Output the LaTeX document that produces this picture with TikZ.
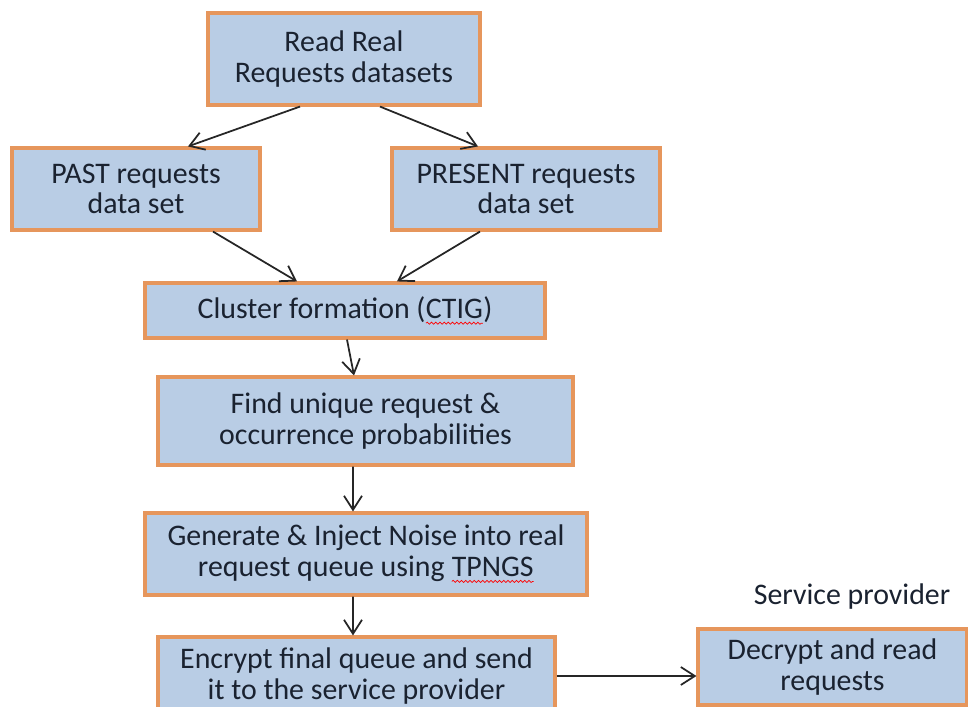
\documentclass[tikz,border=0pt]{standalone}
\usepackage{fontspec}
\setmainfont{Carlito}
\usepackage{tikz}
\usetikzlibrary{positioning,calc,arrows.meta,decorations.pathmorphing}

\definecolor{boxfill}{RGB}{185,205,229}
\definecolor{boxline}{RGB}{230,150,92}
\definecolor{boxtext}{RGB}{26,34,48}

\newcommand\spellwave[1]{\tikz[baseline=(word.base)]{\node[inner sep=0pt, outer sep=0pt, minimum width=0pt, minimum height=0pt] (word) {#1};
  \draw[red, line width=0.4pt, decorate, decoration={snake, amplitude=0.6pt, segment length=2.4pt}]
    ([yshift=-2.8pt]word.base west) -- ([yshift=-2.8pt]word.base east);}}

\begin{document}
\begin{tikzpicture}[x=0.02cm, y=-0.02cm,
    every node/.style={font=\fontsize{17}{17.4}\selectfont, text=boxtext, align=center},
    procbox/.style={draw=boxline, line width=1.8pt, fill=boxfill},
    flow/.style={-{Straight Barb[length=2.8mm,width=3.6mm]}, line width=1pt, draw=black!85}]
      \useasboundingbox (0,0) rectangle (968,707);
      \clip (0,0) rectangle (968,707);
      \node (read) [procbox, minimum width=5.44cm, minimum height=1.84cm] at (344,59) {Read Real\\Requests datasets};
      \node (past) [procbox, minimum width=4.96cm, minimum height=1.64cm] at (136,189) {PAST requests\\data set};
      \node (present) [procbox, minimum width=5.36cm, minimum height=1.64cm] at (526,189) {PRESENT requests\\data set};
      \node (cluster) [procbox, minimum width=8.0cm, minimum height=1.1cm] at (345,310.5) {Cluster formation (\spellwave{CTIG})};
      \node (find) [procbox, minimum width=8.3cm, minimum height=1.76cm] at (365.5,421) {Find unique request \&\\occurrence probabilities};
      \node (generate) [procbox, minimum width=8.84cm, minimum height=1.64cm] at (366,554) {Generate \& Inject Noise into real\\request queue using \spellwave{TPNGS}};
      \node (encrypt) [procbox, minimum width=7.94cm, minimum height=1.56cm] at (356.5,676) {Encrypt final queue and send\\it to the service provider};
      \node (decrypt) [procbox, minimum width=5.38cm, minimum height=1.52cm] at (832.5,667) {Decrypt and read\\requests};
      \node (service) at (852,597) {Service provider};
      \draw[flow] ([xshift=-0.88cm]read.south) -- ([xshift=1.04cm]past.north);
      \draw[flow] ([xshift=0.72cm]read.south) -- ([xshift=-0.96cm]present.north);
      \draw[flow] ([xshift=1.54cm]past.south) -- ([xshift=-0.96cm]cluster.north);
      \draw[flow] ([xshift=-0.92cm]present.south) -- ([xshift=1.04cm]cluster.north);
      \draw[flow] ([xshift=0.04cm]cluster.south) -- ([xshift=-0.23cm]find.north);
      \draw[flow] ([xshift=-0.25cm]find.south) -- ([xshift=-0.26cm]generate.north);
      \draw[flow] ([xshift=-0.26cm]generate.south) -- ([xshift=-0.07cm]encrypt.north);
      \draw[flow] (encrypt.east) -- (encrypt.east -| decrypt.west);
    \end{tikzpicture}
\end{document}
